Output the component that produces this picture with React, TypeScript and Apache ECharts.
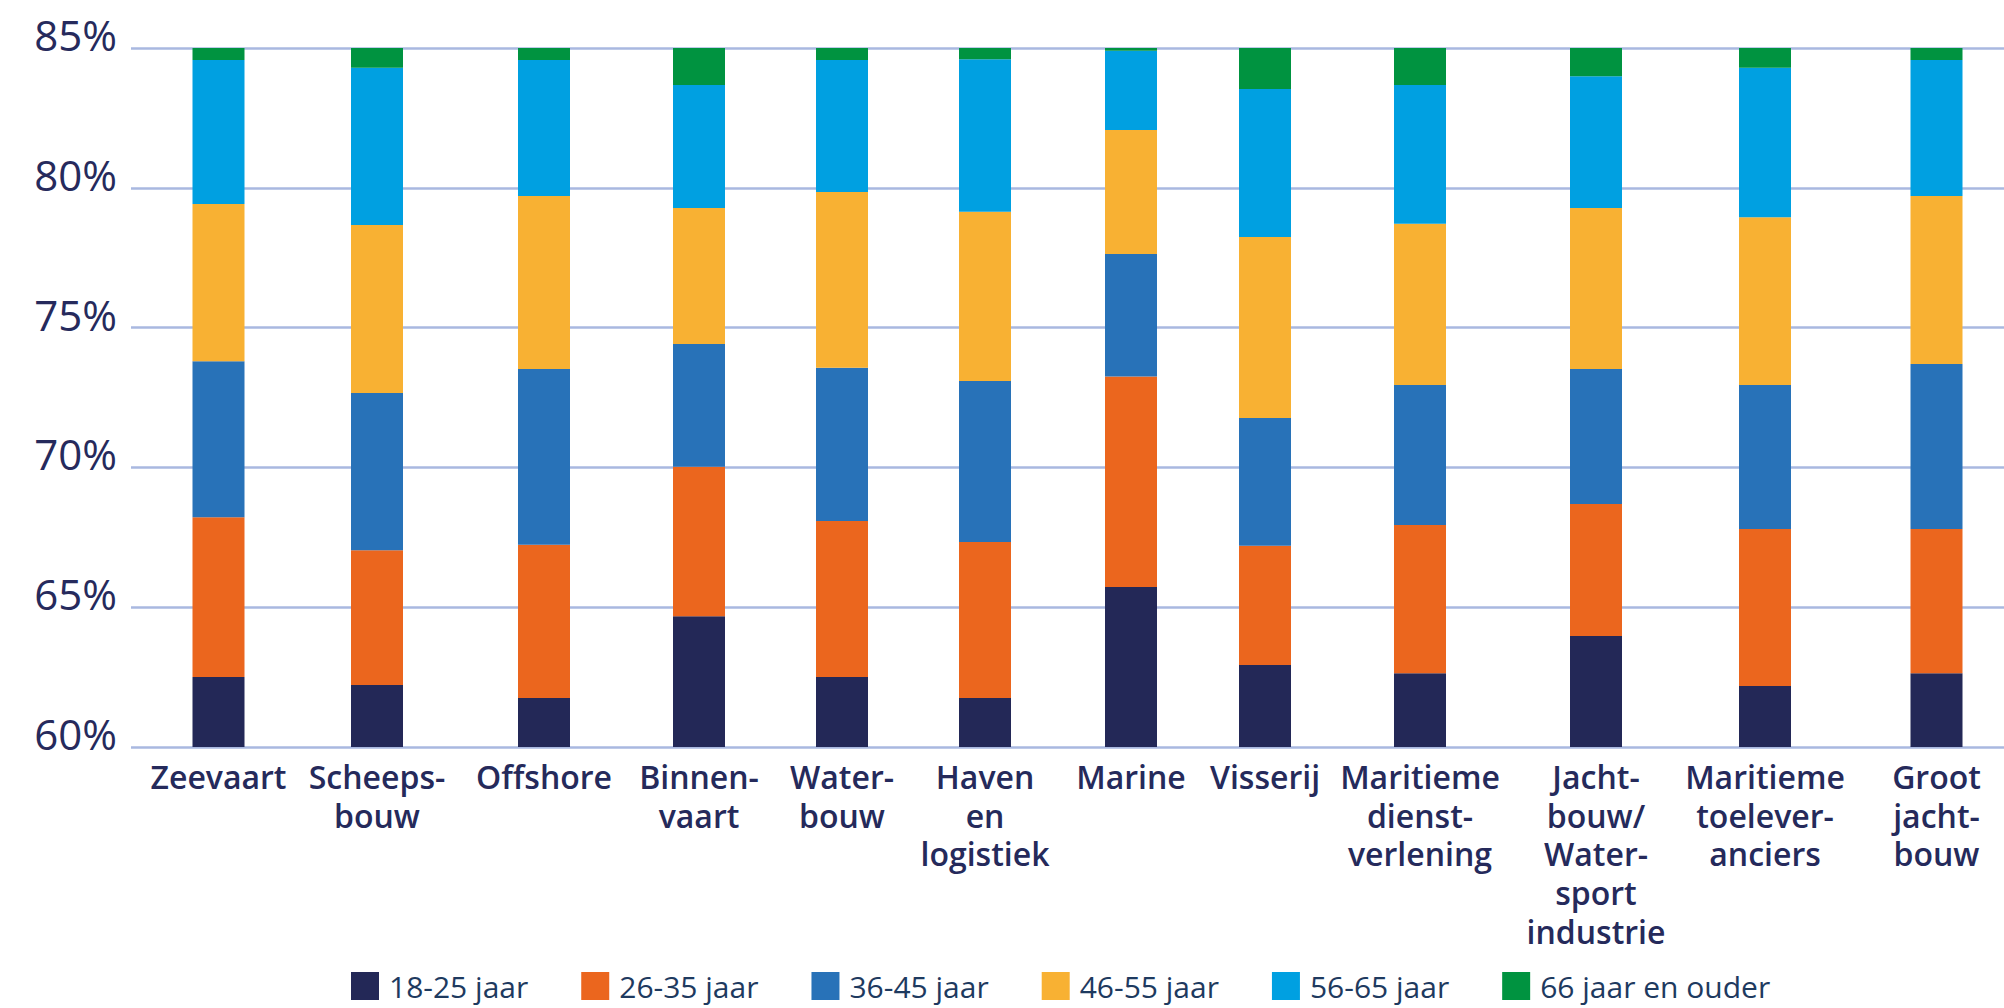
import React, { useEffect, useRef } from "react";
import * as echarts from "echarts";

const categories = [
  "Zeevaart",
  "Scheeps-\nbouw",
  "Offshore",
  "Binnen-\nvaart",
  "Water-\nbouw",
  "Haven\nen\nlogistiek",
  "Marine",
  "Visserij",
  "Maritieme\ndienst-\nverlening",
  "Jacht-\nbouw/\nWater-\nsport\nindustrie",
  "Maritieme\ntoelever-\nanciers",
  "Groot\njacht-\nbouw",
];

const seriesNames = [
  "18-25 jaar",
  "26-35 jaar",
  "36-45 jaar",
  "46-55 jaar",
  "56-65 jaar",
  "66 jaar en ouder",
];

const age18_25 = [62.5, 62.22, 61.75, 64.68, 62.5, 61.75, 65.72, 62.93, 62.64, 63.97, 62.18, 62.64];
const age26_35 = [5.72, 4.82, 5.48, 5.34, 5.58, 5.58, 7.53, 4.27, 5.3, 4.72, 5.62, 5.16];
const age36_45 = [5.58, 5.62, 6.29, 4.39, 5.48, 5.76, 4.38, 4.57, 5.01, 4.83, 5.15, 5.9];
const age46_55 = [5.62, 6.01, 6.19, 4.87, 6.29, 6.05, 4.44, 6.47, 5.76, 5.76, 6.0, 6.01];
const age56_65 = [5.15, 5.62, 4.86, 4.4, 4.72, 5.46, 2.83, 5.29, 4.97, 4.71, 5.34, 4.86];
const age66plus = [0.43, 0.71, 0.43, 1.32, 0.43, 0.4, 0.1, 1.47, 1.32, 1.01, 0.71, 0.43];

const seriesData = [age18_25, age26_35, age36_45, age46_55, age56_65, age66plus];
const colors = ["#232857", "#eb661e", "#2872b8", "#f8b133", "#00a0e1", "#009340"];

const yTicks = { min: 60, max: 85, interval: 5 };

// layout: horizontal centre (px) of each category column, as in the reference
const columnCenters = [218.5, 377, 544, 699, 842, 985, 1131, 1265, 1420, 1596, 1765, 1944];

const PLOT_TOP = 48;
const PLOT_HEIGHT = 699;
const COL_WIDTH = 150;

export default function App() {
  const ref = useRef<HTMLDivElement>(null);
  useEffect(() => {
    document.body.style.margin = "0";
    const chart = echarts.init(ref.current!, null, { renderer: "svg" });

    const grids: any[] = [{ left: 131, right: 0, top: PLOT_TOP, height: PLOT_HEIGHT }];
    const xAxes: any[] = [{ type: "category", gridIndex: 0, data: [""], show: false }];
    const yAxes: any[] = [
      {
        type: "value",
        gridIndex: 0,
        min: yTicks.min,
        max: yTicks.max,
        interval: yTicks.interval,
        axisLine: { show: false },
        axisTick: { show: false },
        splitLine: { lineStyle: { color: "#a9b8e0", width: 2.5 } },
        axisLabel: {
          formatter: "{value}%",
          margin: 14,
          fontFamily: "Open Sans",
          fontSize: 42,
          lineHeight: 27,
          verticalAlign: "bottom",
          color: "#262a5c",
        },
      },
    ];
    const series: any[] = [];

    categories.forEach((cat, i) => {
      const g = i + 1;
      grids.push({
        left: columnCenters[i] - COL_WIDTH / 2,
        width: COL_WIDTH,
        top: PLOT_TOP,
        height: PLOT_HEIGHT,
      });
      xAxes.push({
        type: "category",
        gridIndex: g,
        data: [cat],
        axisLine: { show: false },
        axisTick: { show: false },
        axisLabel: {
          interval: 0,
          margin: 10,
          fontFamily: "Open Sans",
          fontWeight: 600,
          fontSize: 32,
          lineHeight: 38.7,
          color: "#252a5b",
        },
      });
      yAxes.push({
        type: "value",
        gridIndex: g,
        min: yTicks.min,
        max: yTicks.max,
        interval: yTicks.interval,
        show: false,
        splitLine: { show: false },
      });
      seriesNames.forEach((name, j) => {
        series.push({
          name,
          type: "bar",
          xAxisIndex: g,
          yAxisIndex: g,
          stack: "col" + g,
          barWidth: 52,
          clip: true,
          data: [seriesData[j][i]],
          itemStyle: { color: colors[j] },
        });
      });
    });

    chart.setOption({
      animation: false,
      backgroundColor: "#ffffff",
      color: colors,
      legend: {
        left: 346,
        top: 966,
        icon: "rect",
        itemWidth: 28,
        itemHeight: 28,
        itemGap: 53,
        data: seriesNames,
        textStyle: {
          fontFamily: "Open Sans",
          fontSize: 30,
          color: "#1e3a5f",
          padding: [0, 0, 0, 5],
        },
      },
      grid: grids,
      xAxis: xAxes,
      yAxis: yAxes,
      series,
    });
    return () => chart.dispose();
  }, []);
  return <div ref={ref} style={{ width: 2004, height: 1008 }} />;
}
